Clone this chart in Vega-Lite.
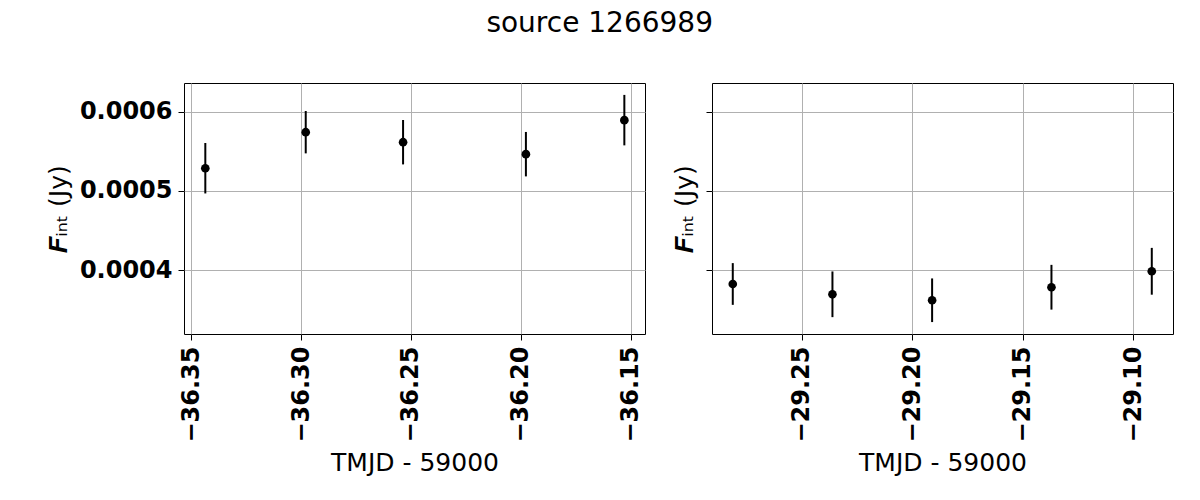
{
  "$schema": "https://vega.github.io/schema/vega-lite/v6.json",
  "background": "white",
  "padding": {"left": 45, "top": 9, "right": 20, "bottom": 5},
  "title": {"text": "source 1266989", "fontSize": 28, "fontWeight": "normal", "font": "DejaVu Sans", "anchor": "middle", "offset": 45, "dx": -10, "color": "black"},
  "datasets": {
    "p1": [
      {"t": -36.3436, "f": 0.0005286, "err": 0.0000318},
      {"t": -36.2979, "f": 0.000574, "err": 0.0000267},
      {"t": -36.2536, "f": 0.0005614, "err": 0.000028},
      {"t": -36.1977, "f": 0.0005463, "err": 0.000028},
      {"t": -36.1529, "f": 0.0005892, "err": 0.0000318}
    ],
    "p2": [
      {"t": -29.2813, "f": 0.0003827, "err": 0.0000263},
      {"t": -29.2362, "f": 0.0003697, "err": 0.0000288},
      {"t": -29.1911, "f": 0.0003622, "err": 0.0000275},
      {"t": -29.1371, "f": 0.0003786, "err": 0.0000282},
      {"t": -29.0917, "f": 0.0003987, "err": 0.0000295}
    ]
  },
  "spacing": 26,
  "hconcat": [
    {
      "width": 461,
      "height": 251,
      "data": {"name": "p1"},
      "encoding": {
        "x": {"field": "t", "type": "quantitative", "title": "TMJD - 59000",
          "scale": {"domain": [-36.3533, -36.1435], "nice": false, "zero": false},
          "axis": {"values": [-36.35, -36.3, -36.25, -36.2, -36.15], "format": ".2f", "labelAngle": 270, "labelAlign": "right", "labelBaseline": "middle"}},
        "y": {"field": "f", "type": "quantitative", "title": "𝑭ᵢₙₜ (Jy)",
          "scale": {"domain": [0.00031966, 0.000636], "nice": false, "zero": false},
          "axis": {"values": [0.0004, 0.0005, 0.0006], "format": ".4f"}}
      },
      "layer": [
        {"mark": {"type": "errorbar", "color": "black", "rule": {"strokeWidth": 2}}, "encoding": {"yError": {"field": "err"}}},
        {"mark": {"type": "point", "filled": true, "color": "black", "opacity": 1, "size": 75}}
      ]
    },
    {
      "width": 461,
      "height": 251,
      "data": {"name": "p2"},
      "encoding": {
        "x": {"field": "t", "type": "quantitative", "title": "TMJD - 59000",
          "scale": {"domain": [-29.2907, -29.0821], "nice": false, "zero": false},
          "axis": {"values": [-29.25, -29.2, -29.15, -29.1], "format": ".2f", "labelAngle": 270, "labelAlign": "right", "labelBaseline": "middle"}},
        "y": {"field": "f", "type": "quantitative", "title": "𝑭ᵢₙₜ (Jy)",
          "scale": {"domain": [0.00031966, 0.000636], "nice": false, "zero": false},
          "axis": {"values": [0.0004, 0.0005, 0.0006], "labels": false}}
      },
      "layer": [
        {"mark": {"type": "errorbar", "color": "black", "rule": {"strokeWidth": 2}}, "encoding": {"yError": {"field": "err"}}},
        {"mark": {"type": "point", "filled": true, "color": "black", "opacity": 1, "size": 75}}
      ]
    }
  ],
  "config": {
    "font": "DejaVu Sans",
    "view": {"stroke": "black", "strokeWidth": 1},
    "axis": {
      "domain": false,
      "grid": true,
      "gridColor": "#b0b0b0",
      "gridWidth": 1,
      "gridOpacity": 1,
      "tickColor": "black",
      "tickSize": 6,
      "tickWidth": 1,
      "labelFont": "DejaVu Sans",
      "labelFontSize": 24,
      "labelFontWeight": "bold",
      "labelColor": "black",
      "labelPadding": 6,
      "labelFlush": false,
      "labelOverlap": false,
      "titleFont": "DejaVu Sans",
      "titleFontSize": 25,
      "titleFontWeight": "normal",
      "titleColor": "black",
      "titlePadding": 8
    }
  }
}
